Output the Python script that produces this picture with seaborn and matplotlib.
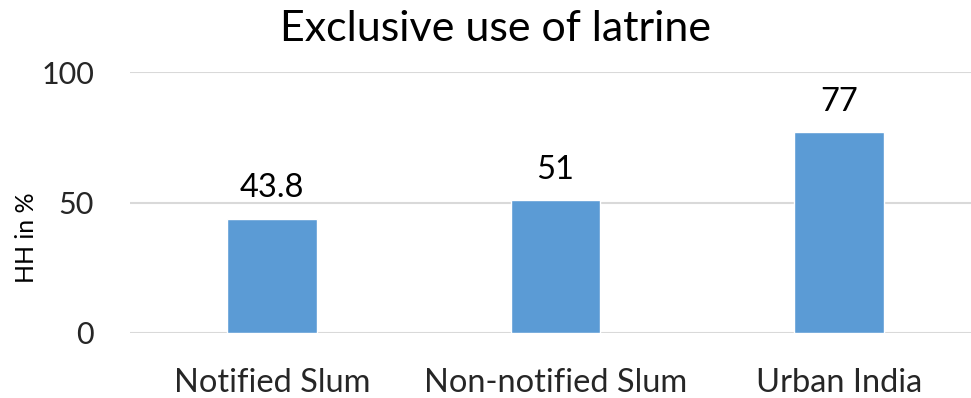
import matplotlib
matplotlib.use("Agg")
import matplotlib.pyplot as plt
import seaborn as sns
import pandas as pd

categories = ["Notified Slum", "Non-notified Slum", "Urban India"]
values = [43.8, 51, 77]
value_labels = ["43.8", "51", "77"]
y_ticks = [0, 50, 100]

sns.set_theme(style="white")
plt.rcParams["font.family"] = ["Lato", "DejaVu Sans"]

df = pd.DataFrame({"category": categories, "value": values})

fig = plt.figure(figsize=(9.71, 3.98), dpi=100)
# plot area runs slightly past the right edge of the canvas
ax = fig.add_axes([130.25 / 971, 65 / 398, 850.5 / 971, 261 / 398])

sns.barplot(data=df, x="category", y="value", color="#5B9BD5",
            saturation=1, width=0.314, ax=ax, zorder=3)

ax.set_ylim(0, 100)
ax.set_xlim(-0.5, 2.5)
ax.set_yticks(y_ticks)
ax.set_yticklabels([str(t) for t in y_ticks], fontsize=22)
ax.tick_params(axis="x", labelsize=23.5, length=0, pad=25)
ax.tick_params(axis="y", length=0, pad=26)
ax.yaxis.grid(True, color="#D9D9D9", linewidth=1.5, zorder=0)
for s in ax.spines.values():
    s.set_visible(False)

ax.set_xlabel("")
ax.set_ylabel("")
fig.text(27 / 971, 1 - 238 / 398, "HH in %", rotation=90, ha="center",
         va="center", fontsize=18, color="black")

for bar, lab in zip(ax.patches, value_labels):
    ax.annotate(lab, (bar.get_x() + bar.get_width() / 2, bar.get_height()),
                xytext=(0, 11), textcoords="offset points",
                ha="center", va="bottom", fontsize=23.5, color="black")

fig.text(495 / 971, 1 - 29 / 398, "Exclusive use of latrine", ha="center",
         va="center", fontsize=31, color="black")

fig.savefig("out.png", dpi=100)
